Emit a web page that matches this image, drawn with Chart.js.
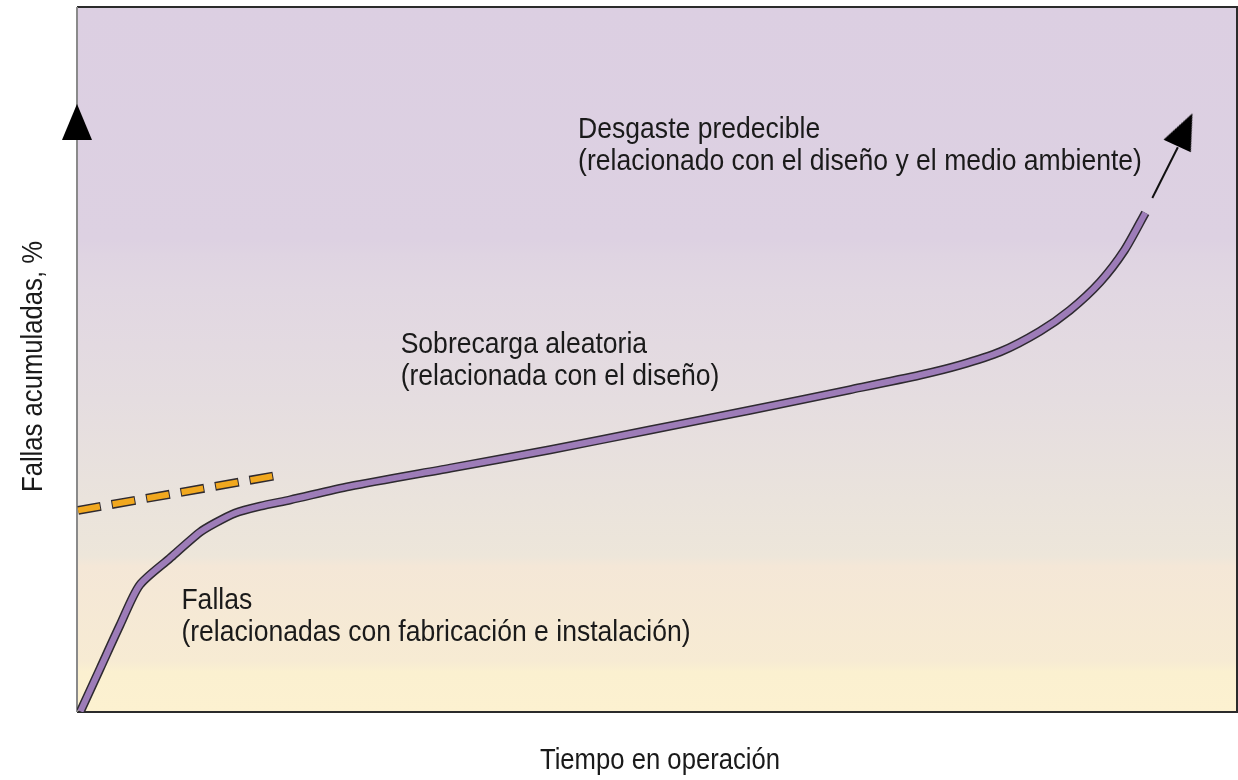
<!DOCTYPE html>
<html>
<head>
<meta charset="utf-8">
<script src="https://cdn.jsdelivr.net/npm/chart.js@4/dist/chart.umd.min.js"></script>
<style>
  body { margin: 0; background: #fff; }
  #wrap { width: 1238px; height: 780px; }
</style>
</head>
<body>
<div id="wrap"><canvas id="curve-chart" width="1238" height="780"></canvas></div>
<script>
// time in operation (0-100) and cumulative failures (0-100)
const timeVals = [0.3, 2.0, 3.7, 5.4, 8.0, 10.6, 11.9, 13.6, 15.8, 18.4, 23.5, 32.2, 40.8, 49.4, 58.0, 66.6, 72.7, 76.1, 79.6, 83.0, 85.6, 88.2, 90.3, 92.1];
const failVals = [0.1, 6.2, 12.3, 18.0, 21.8, 25.5, 26.8, 28.2, 29.2, 30.1, 32.0, 34.6, 37.2, 40.0, 42.8, 45.7, 47.8, 49.2, 51.1, 54.0, 57.0, 61.0, 65.5, 70.8];

// early failure trend (dashed)
const earlyTime = [0.1, 17.4];
const earlyFail = [28.6, 33.6];

// wear-out arrow
const arrowTime = [92.7, 94.9];
const arrowFail = [72.9, 80.1];
const arrowHead = { x: 95.5, y: 82.6, angle: 25 };
const axisArrow = { x: 0, y: 83.7, angle: 0 };

const labels = [
  { x: 43.2, y: 81.4, lines: ['Desgaste predecible', '(relacionado con el diseño y el medio ambiente)'] },
  { x: 27.9, y: 50.9, lines: ['Sobrecarga aleatoria', '(relacionada con el diseño)'] },
  { x: 9.0, y: 14.6, lines: ['Fallas', '(relacionadas con fabricación e instalación)'] }
];
const xTitle = 'Tiempo en operación';
const yTitle = 'Fallas acumuladas, %';

const FONT = '"Liberation Sans", Arial, sans-serif';
const SQUEEZE = 0.885;

const toXY = (xs, ys) => xs.map((x, i) => ({ x: x, y: ys[i] }));

// narrow arrowhead used as a point style
function arrowCanvas() {
  const c = document.createElement('canvas');
  c.width = 30;
  c.height = 36;
  const g = c.getContext('2d');
  g.fillStyle = '#000';
  g.beginPath();
  g.moveTo(15, 0);
  g.lineTo(30, 36);
  g.lineTo(0, 36);
  g.closePath();
  g.fill();
  return c;
}
const arrowImg = arrowCanvas();

function squeezedText(ctx, text, x, y, rot) {
  ctx.save();
  ctx.translate(x, y);
  if (rot) ctx.rotate(rot);
  ctx.scale(SQUEEZE, 1);
  ctx.fillText(text, 0, 0);
  ctx.restore();
}

const backgroundPlugin = {
  id: 'bands',
  beforeDatasetsDraw(chart) {
    const { ctx, chartArea: a } = chart;
    const g = ctx.createLinearGradient(0, a.top, 0, a.bottom);
    const h = a.bottom - a.top;
    const stop = (py, c) => g.addColorStop(Math.min(1, Math.max(0, (py - a.top) / h)), c);
    stop(a.top, '#dccfe2');
    stop(240, '#ddd1e2');
    stop(255, '#dfd4e2');
    stop(290, '#e1d7e2');
    stop(400, '#e5dde0');
    stop(500, '#eae3dc');
    stop(556, '#ede6da');
    stop(566, '#f4e7d7');
    stop(662, '#f7ebd3');
    stop(672, '#fbf0d0');
    stop(a.bottom, '#fcf1d0');
    ctx.save();
    ctx.fillStyle = g;
    ctx.fillRect(a.left, a.top, a.right - a.left, a.bottom - a.top);
    // frame
    ctx.lineWidth = 2;
    ctx.strokeStyle = '#2b2b2b';
    ctx.beginPath();
    ctx.moveTo(a.left, a.top);
    ctx.lineTo(a.right, a.top);
    ctx.lineTo(a.right, a.bottom);
    ctx.lineTo(a.left, a.bottom);
    ctx.stroke();
    ctx.strokeStyle = '#8a8a8a';
    ctx.beginPath();
    ctx.moveTo(a.left, a.top);
    ctx.lineTo(a.left, a.bottom);
    ctx.stroke();
    ctx.restore();
  },
  afterDatasetsDraw(chart) {
    const { ctx, scales, chartArea: a } = chart;
    ctx.save();
    ctx.fillStyle = '#1a1a1a';
    ctx.textBaseline = 'alphabetic';
    ctx.textAlign = 'left';
    ctx.font = '30px ' + FONT;
    labels.forEach(l => {
      const px = scales.x.getPixelForValue(l.x);
      const py = scales.y.getPixelForValue(l.y);
      l.lines.forEach((t, i) => squeezedText(ctx, t, px, py + i * 31.5));
    });
    // axis titles
    ctx.font = '29px ' + FONT;
    ctx.textAlign = 'center';
    squeezedText(ctx, xTitle, (a.left + a.right) / 2 + 3, 769);
    squeezedText(ctx, yTitle, 42, (a.top + a.bottom) / 2 + 7, -Math.PI / 2);
    ctx.restore();
  }
};

const ctx = document.getElementById('curve-chart').getContext('2d');
new Chart(ctx, {
  type: 'line',
  data: {
    datasets: [
      {
        data: toXY(timeVals, failVals),
        borderColor: '#9d7cb8',
        borderWidth: 6,
        tension: 0.25,
        pointRadius: 0,
        order: 1
      },
      {
        data: toXY(timeVals, failVals),
        borderColor: '#2e2a30',
        borderWidth: 9,
        tension: 0.25,
        pointRadius: 0,
        order: 2
      },
      {
        data: toXY(earlyTime, earlyFail),
        borderColor: '#f1a81f',
        borderWidth: 6,
        borderDash: [22, 13],
        pointRadius: 0,
        order: 1
      },
      {
        data: toXY(earlyTime, earlyFail),
        borderColor: '#2e2a30',
        borderWidth: 9,
        borderDash: [24, 11],
        borderDashOffset: 1,
        pointRadius: 0,
        order: 2
      },
      {
        data: toXY(arrowTime, arrowFail),
        borderColor: '#111',
        borderWidth: 2,
        pointRadius: 0,
        order: 1
      },
      {
        data: [arrowHead, axisArrow].map(p => ({ x: p.x, y: p.y })),
        showLine: false,
        pointStyle: arrowImg,
        pointRotation: [arrowHead.angle, axisArrow.angle],
        clip: false,
        order: 0
      }
    ]
  },
  options: {
    responsive: false,
    animation: false,
    events: [],
    layout: { autoPadding: false, padding: { top: 7, right: 1, left: 0, bottom: 0 } },
    plugins: { legend: { display: false }, tooltip: { enabled: false } },
    scales: {
      x: {
        type: 'linear',
        min: 0,
        max: 100,
        grid: { display: false },
        border: { display: false },
        ticks: { display: false },
        afterFit: s => { s.height = 68; }
      },
      y: {
        min: 0,
        max: 100,
        grid: { display: false },
        border: { display: false },
        ticks: { display: false },
        afterFit: s => { s.width = 77; }
      }
    }
  },
  plugins: [backgroundPlugin]
});
</script>
</body>
</html>
